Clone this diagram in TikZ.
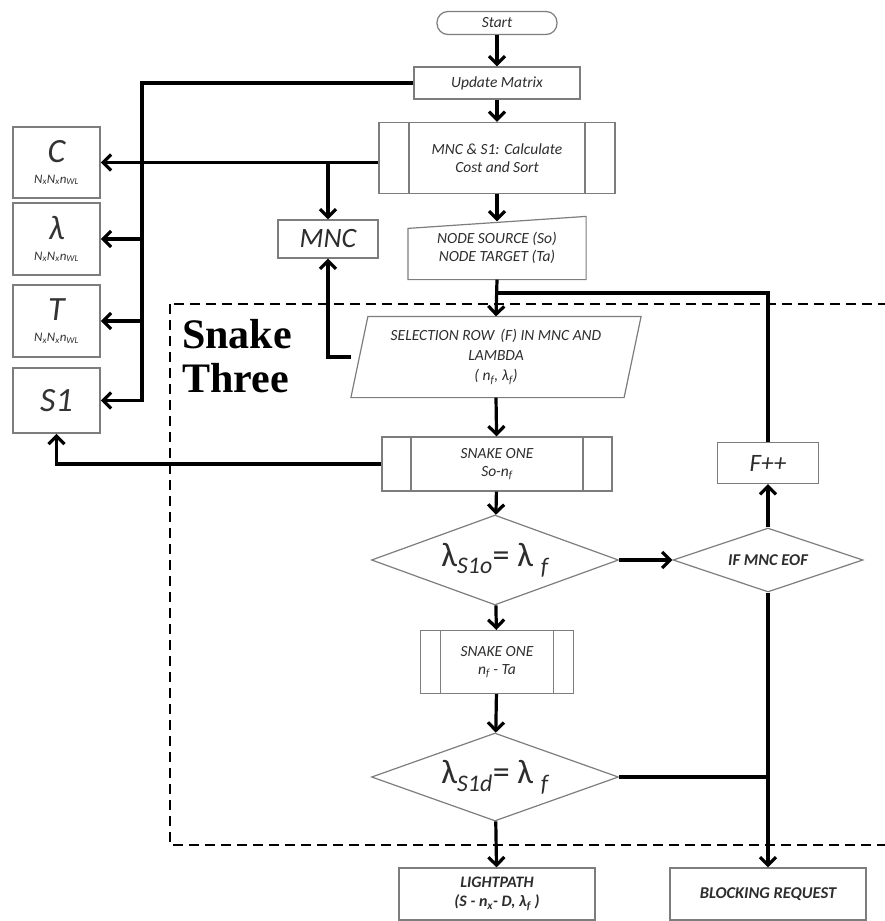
\documentclass[tikz,border=0pt]{standalone}
\usepackage{fontspec}
\setmainfont{Carlito}
\newfontfamily\snakefont{Liberation Serif}
\usetikzlibrary{arrows.meta, shapes.geometric}

\definecolor{boxgray}{RGB}{125,125,125}
\definecolor{txtgray}{RGB}{45,45,45}
\newcommand{\lowx}[1]{\textsubscript{#1}}
\newcommand{\dims}{N\lowx{x}N\lowx{x}n\lowx{WL}}

\tikzset{
  box/.style={draw=boxgray, line width=1.2pt, fill=white, text=txtgray, align=center,
    inner sep=1pt, font={\fontsize{15.5}{18}\selectfont\itshape}},
  subproc/.style={box, path picture={
    \draw[boxgray, line width=1.2pt]
      ([xshift=#1]path picture bounding box.north west) -- ([xshift=#1]path picture bounding box.south west)
      ([xshift=-#1]path picture bounding box.north east) -- ([xshift=-#1]path picture bounding box.south east);}},
  matbox/.style={box, line width=1.6pt, minimum width=87pt, text=black!80},
  decision/.style={box, diamond, aspect=2.7, inner sep=0pt},
  plain/.style={box, draw=none, fill=none},
  link/.style={line width=3.2pt},
  flow/.style={link, -{Straight Barb[length=8pt,width=16pt]}},
}

\begin{document}
\begin{tikzpicture}[x=1pt, y=-1pt]
\useasboundingbox (0,0) rectangle (884,921);

% snake three frame
\draw[line width=2.8pt, dash pattern=on 10pt off 6pt] (170,304) rectangle (900,845);
\node[anchor=north west, align=left, inner sep=0pt,
  font={\snakefont\bfseries\fontsize{42}{44}\selectfont}] (title) at (182,319) {Snake\\Three};

% main column
\node[box, rounded corners=11pt, minimum width=120pt, minimum height=23pt] (start) at (497,23) {Start};
\node[box, minimum width=166pt, minimum height=32pt] (upd) at (497,83) {Update Matrix};
\node[subproc=30pt, minimum width=236pt, minimum height=71pt] (calc) at (497,158) {MNC \& S1: Calculate\\Cost and Sort};
\node[plain, minimum width=177pt, minimum height=62pt] (src) at (497,248) {};
\draw[boxgray, line width=1.2pt, fill=white] (src.south west) -- ([yshift=-12pt]src.north west)
  -- (src.north east) -- (src.south east) -- cycle;
\node[plain] at (src.center) {NODE SOURCE (So)\\NODE TARGET (Ta)};
\coordinate (srcin) at ([yshift=-5pt]src.north);

\node[plain, minimum width=272pt, minimum height=80pt] (sel) at (496,357) {};
\draw[boxgray, line width=1.2pt, fill=white] ([xshift=-8.5pt]sel.south west) -- ([xshift=8.5pt]sel.north west)
  -- ([xshift=8.5pt]sel.north east) -- ([xshift=-8.5pt]sel.south east) -- cycle;
\node[plain, font={\fontsize{15.5}{20}\selectfont\itshape}] at (sel.center)
  {SELECTION ROW \,(F) IN MNC AND\\LAMBDA\\( n\lowx{f}, λ\lowx{f})};

\node[subproc=29pt, minimum width=230pt, minimum height=54pt] (snk1) at (497,464) {SNAKE ONE\\So-n\lowx{f}};
\node[decision, minimum width=247pt, minimum height=90pt, font={\fontsize{34}{36}\selectfont}] (d1) at (495,560)
  {λ\lowx{\itshape S1o}= λ \lowx{\itshape f}};
\node[subproc=20pt, minimum width=153pt, minimum height=63pt] (snk2) at (497,662) {SNAKE ONE\\n\lowx{f} - Ta};
\node[decision, minimum width=247pt, minimum height=88pt, font={\fontsize{34}{36}\selectfont}] (d2) at (495,777)
  {λ\lowx{\itshape S1d}= λ \lowx{\itshape f}};
\node[box, minimum width=196pt, minimum height=52pt, font={\fontsize{16}{19}\selectfont\bfseries\itshape}] (light) at (497,894)
  {LIGHTPATH\\(S - n\lowx{x}- D, λ\lowx{f} )};

% right column
\node[decision, minimum width=190pt, minimum height=64pt, font={\fontsize{16.5}{18}\selectfont\bfseries\itshape}] (ifeof) at (768,560) {IF MNC EOF};
\node[box, minimum width=101pt, minimum height=41pt, font={\fontsize{25}{26}\selectfont\itshape}] (fpp) at (768,463) {F++};
\node[box, minimum width=196pt, minimum height=52pt, font={\fontsize{16.5}{18}\selectfont\bfseries\itshape}] (block) at (768,894) {BLOCKING REQUEST};
\coordinate (merge) at (497,293);

% matrices on the left
\node[matbox, minimum height=71pt] (cmat) at (56.5,162.5)
  {{\fontsize{34}{34}\selectfont C}\\[3pt]{\fontsize{13}{13}\selectfont\dims}};
\node[matbox, minimum height=72pt] (lam) at (56.5,239)
  {{\fontsize{34}{34}\selectfont λ}\\[3pt]{\fontsize{13}{13}\selectfont\dims}};
\node[matbox, minimum height=72pt] (tmat) at (56.5,321)
  {{\fontsize{34}{34}\selectfont T}\\[3pt]{\fontsize{13}{13}\selectfont\dims}};
\node[matbox, minimum height=65pt, font={\fontsize{34}{34}\selectfont\itshape}] (s1) at (56.5,400.5) {S1};
\node[box, minimum width=100pt, minimum height=38pt, font={\fontsize{28}{30}\selectfont\itshape}] (mnc) at (328,239) {MNC};
\coordinate (bus) at (142,83);

% main flow
\draw[flow] (start) -- (upd);
\draw[flow] (upd) -- (calc);
\draw[flow] (calc) -- (srcin);
\draw[flow] (src.south) -- (sel.north);
\draw[flow] (sel.south) -- (snk1);
\draw[flow] (snk1) -- (d1);
\draw[flow] (d1) -- (snk2);
\draw[flow] (snk2) -- (d2);
\draw[flow] (d2) -- (light);

% loop and blocking
\draw[flow] (d1) -- (ifeof);
\draw[flow] (ifeof) -- (fpp);
\draw[link] (fpp.north) |- (merge);
\draw[flow] (ifeof.south) -- (block.north);
\draw[link] (d2.east) -- (d2.east -| ifeof.south);

% outputs to the matrices
\draw[flow] (upd.west) -- (bus) |- (s1.east);
\draw[flow] (bus |- lam.east) -- (lam.east);
\draw[flow] (bus |- tmat.east) -- (tmat.east);
\draw[flow] (calc.west |- cmat.east) -- (cmat.east);
\draw[flow] (mnc.north |- cmat.east) -- (mnc.north);
\draw[flow] ([xshift=-8.5pt]sel.west) -| (mnc.south);
\draw[flow] (snk1.west) -| (s1.south);
\end{tikzpicture}
\end{document}
